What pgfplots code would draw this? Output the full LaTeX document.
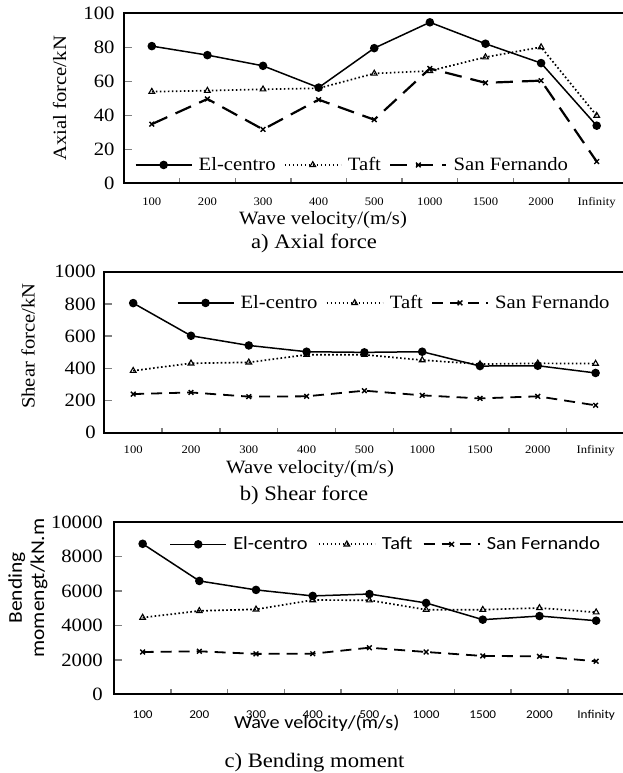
\documentclass[border=0pt]{standalone}
\usepackage{fontspec}
\setmainfont{Liberation Serif}[FakeStretch=1.1]
\newfontfamily\calibri{Carlito}[FakeStretch=1.1]
\usepackage{pgfplots}
\pgfplotsset{compat=1.18}

\newcommand{\tnr}[1]{\fontsize{#1}{#1}\selectfont}

\pgfplotsset{
  panel/.style={
    scale only axis,
    xmin=-0.5, xmax=8.5, ymin=0,
    scaled y ticks=false,
    axis line style={line width=1.8pt},
    xtick={0,...,8},
    xticklabels={100,200,300,400,500,1000,1500,2000,Infinity},
    major x tick style={draw=none},
    minor xtick={0.5,1.5,...,7.5},
    minor x tick style={line width=1.4pt},
    minor tick length=5pt,
    major tick length=7.5pt,
    y tick style={line width=1.4pt},
    tick align=inside,
    tick pos=left,
    clip=false,
    legend columns=3,
    legend cell align=left,
    legend style={draw=none, fill=none, inner sep=0pt, anchor=west,
      nodes={inner xsep=3.3pt, inner ysep=1pt},
      /tikz/every odd column/.append style={column sep=3pt}},
    legend image code/.code={\draw[mark repeat=2, mark phase=2]
      plot coordinates {(0pt,0pt) (28pt,0pt) (56pt,0pt)};},
  },
  elc/.style={black, line width=1.5pt, mark=*, mark size=3.5pt, mark options={solid}},
  taft/.style={black, line width=1.7pt, dash pattern=on 1.6pt off 2.4pt,
    mark=triangle, mark size=3.3pt, mark options={solid, line width=1.1pt}},
  sfa/.style={black, line width=2.2pt, dash pattern=on 17pt off 9pt,
    mark=x, mark size=3.3pt, mark options={solid, line width=1.4pt}},
  sfb/.style={black, line width=1.8pt, dash pattern=on 11pt off 7pt,
    mark=x, mark size=3.3pt, mark options={solid, line width=1.4pt}},
}

\begin{document}
\begin{tikzpicture}
\useasboundingbox (0,0) rectangle (622pt,-773pt);

% ---------- a) Axial force ----------
\begin{axis}[panel, at={(124pt,-183.3pt)}, anchor=south west,
  width=500.5pt, height=170pt, ymax=100,
  ytick={0,20,40,60,80,100}, yticklabels={0,20,40,60,80,100},
  yticklabel style={font=\tnr{18.8}, xshift=-6pt},
  xticklabel style={font=\tnr{11.5}, yshift=-11pt},
  legend style={at={(0.0214,0.108)}, font=\tnr{18.8},
    /tikz/every even column/.append style={column sep=5pt}}]
\addplot[elc] coordinates {(0,80.7) (1,75.4) (2,69.1) (3,56.3) (4,79.5) (5,94.7) (6,82.1) (7,70.7) (8,33.9)};
\addlegendentry{El-centro}
\addplot[taft] coordinates {(0,53.9) (1,54.5) (2,55.3) (3,55.9) (4,64.6) (5,66.1) (6,74.2) (7,80.1) (8,39.8)};
\addlegendentry{Taft}
\addplot[sfa] coordinates {(0,34.8) (1,49.6) (2,31.7) (3,49.2) (4,37.4) (5,67.5) (6,59.1) (7,60.4) (8,12.8)};
\addlegendentry{San Fernando}
\end{axis}
\node[rotate=90, font=\tnr{18.8}] at (59.5pt,-98.3pt) {Axial force/kN};
\node[anchor=base, font=\tnr{18.8}] at (323pt,-224.6pt) {Wave velocity/(m/s)};
\node[anchor=base, font=\tnr{20.6}] at (314pt,-248pt) {a) Axial force};

% ---------- b) Shear force ----------
\begin{axis}[panel, at={(104.3pt,-432.7pt)}, anchor=south west,
  width=520.2pt, height=161pt, ymax=1000,
  ytick={0,200,400,600,800,1000}, yticklabels={0,200,400,600,800,1000},
  yticklabel style={font=\tnr{18.8}, xshift=-5pt},
  xticklabel style={font=\tnr{11.5}, yshift=-9.6pt},
  legend style={at={(0.139,0.806)}, font=\tnr{18.8},
    /tikz/every even column/.append style={column sep=5pt}}]
\addplot[elc] coordinates {(0,805) (1,602) (2,542) (3,503) (4,499) (5,503) (6,414) (7,416) (8,371)};
\addlegendentry{El-centro}
\addplot[taft] coordinates {(0,385) (1,431) (2,437) (3,484) (4,484) (5,451) (6,426) (7,431) (8,429)};
\addlegendentry{Taft}
\addplot[sfb] coordinates {(0,240) (1,250) (2,224) (3,226) (4,261) (5,232) (6,213) (7,226) (8,170)};
\addlegendentry{San Fernando}
\end{axis}
\node[rotate=90, font=\tnr{18.8}] at (28pt,-346pt) {Shear force/kN};
\node[anchor=base, font=\tnr{18.8}] at (310pt,-473pt) {Wave velocity/(m/s)};
\node[anchor=base, font=\tnr{20.6}] at (304pt,-500pt) {b) Shear force};

% ---------- c) Bending moment ----------
\begin{axis}[panel, at={(114.3pt,-694.3pt)}, anchor=south west,
  width=510.2pt, height=172pt, ymax=10000,
  ytick={0,2000,4000,6000,8000,10000}, yticklabels={0,2000,4000,6000,8000,10000},
  yticklabel style={font=\tnr{18.8}, xshift=-8pt},
  xticklabel style={font=\calibri\tnr{12}, yshift=-12.5pt},
  legend style={at={(0.1078,0.872)}, font=\calibri\tnr{18.5},
    /tikz/every even column/.append style={column sep=7pt}}]
\addplot[elc] coordinates {(0,8750) (1,6590) (2,6070) (3,5720) (4,5830) (5,5310) (6,4340) (7,4550) (8,4280)};
\addlegendentry{El-centro}
\addplot[taft] coordinates {(0,4460) (1,4850) (2,4940) (3,5480) (4,5470) (5,4920) (6,4920) (7,5020) (8,4770)};
\addlegendentry{Taft}
\addplot[sfb] coordinates {(0,2460) (1,2500) (2,2350) (3,2360) (4,2710) (5,2460) (6,2230) (7,2210) (8,1920)};
\addlegendentry{San Fernando}
\end{axis}
\node[rotate=90, align=center, font=\calibri\fontsize{19.5}{22.3}\selectfont] at (27.9pt,-588pt) {Bending\\momengt/kN.m};
\node[anchor=base, font=\calibri\tnr{18.4}] at (316.7pt,-728pt) {Wave velocity/(m/s)};
\node[anchor=base, font=\tnr{20.6}] at (314.5pt,-767pt) {c) Bending moment};
\end{tikzpicture}
\end{document}
